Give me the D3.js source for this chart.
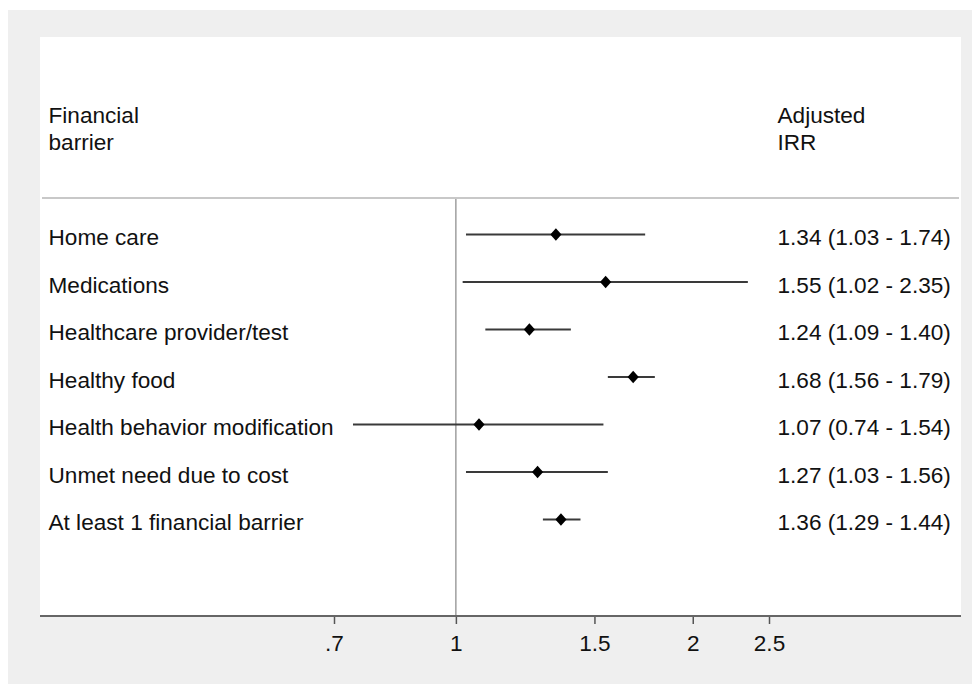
<!DOCTYPE html>
<html>
<head>
<meta charset="utf-8">
<script src="https://cdn.jsdelivr.net/npm/d3@7"></script>
<style>
  html, body { margin: 0; padding: 0; background: #ffffff; }
  svg { display: block; }
  text { font-family: "Liberation Sans", Arial, sans-serif; fill: #111; }
</style>
</head>
<body>
<script>
// ---- data ----
const categories = [
  "Home care",
  "Medications",
  "Healthcare provider/test",
  "Healthy food",
  "Health behavior modification",
  "Unmet need due to cost",
  "At least 1 financial barrier"
];
const irr   = [1.34, 1.55, 1.24, 1.68, 1.07, 1.27, 1.36];
const lower = [1.03, 1.02, 1.09, 1.56, 0.74, 1.03, 1.29];
const upper = [1.74, 2.35, 1.40, 1.79, 1.54, 1.56, 1.44];
const tickValues = [0.7, 1, 1.5, 2, 2.5];
const tickLabels = [".7", "1", "1.5", "2", "2.5"];
const headerLeft = ["Financial", "barrier"];
const headerRight = ["Adjusted", "IRR"];

// ---- layout ----
const W = 972, H = 684;
const svg = d3.select("body").append("svg").attr("width", W).attr("height", H);

// outer grey background
svg.append("rect").attr("x", 8).attr("y", 10).attr("width", W - 8).attr("height", H - 10).attr("fill", "#efefef");
// white plot panel
const panel = { x0: 40, y0: 37, x1: 961, y1: 616 };
svg.append("rect").attr("x", panel.x0).attr("y", panel.y0)
  .attr("width", panel.x1 - panel.x0).attr("height", panel.y1 - panel.y0).attr("fill", "#ffffff");

const x = d3.scaleLog().domain([0.7, 2.5]).range([334, 769]);
const y = d3.scalePoint().domain(categories).range([234.5, 519.5]);

const fs = 22.6;

// header texts
headerLeft.forEach((t, i) => {
  svg.append("text").attr("x", 48.5).attr("y", 123 + i * 27).attr("font-size", fs).text(t);
});
headerRight.forEach((t, i) => {
  svg.append("text").attr("x", 777.5).attr("y", 123 + i * 27).attr("font-size", fs).text(t);
});

// header separator
svg.append("line").attr("x1", panel.x0 + 2).attr("x2", panel.x1 - 2)
  .attr("y1", 198).attr("y2", 198).attr("stroke", "#c8c8c8").attr("stroke-width", 2);

// reference line at 1
svg.append("line").attr("x1", x(1)).attr("x2", x(1))
  .attr("y1", 199).attr("y2", panel.y1).attr("stroke", "#888").attr("stroke-width", 1.2);

// rows
const rows = svg.append("g").selectAll("g").data(categories).join("g");
rows.append("text").attr("x", 48.5).attr("y", d => y(d) + 10.5).attr("font-size", fs).text(d => d);
rows.append("line")
  .attr("x1", (d, i) => x(lower[i])).attr("x2", (d, i) => x(upper[i]))
  .attr("y1", d => y(d)).attr("y2", d => y(d))
  .attr("stroke", "#3a3a3a").attr("stroke-width", 1.8);
rows.append("path")
  .attr("d", "M0,-6.2 L5.6,0 L0,6.2 L-5.6,0 Z")
  .attr("transform", (d, i) => `translate(${x(irr[i])},${y(d)})`)
  .attr("fill", "#000");
rows.append("text").attr("x", 777.5).attr("y", d => y(d) + 10.5).attr("font-size", fs)
  .text((d, i) => `${irr[i].toFixed(2)} (${lower[i].toFixed(2)} - ${upper[i].toFixed(2)})`);

// x axis
const axis = d3.axisBottom(x).tickValues(tickValues)
  .tickFormat((d, i) => tickLabels[i]).tickSize(8).tickSizeOuter(0).tickPadding(11);
const gAxis = svg.append("g").attr("transform", `translate(0,${panel.y1})`).call(axis);
gAxis.select(".domain").remove();
gAxis.selectAll(".tick line").attr("stroke", "#555").attr("stroke-width", 1.5);
gAxis.selectAll(".tick text").attr("font-size", fs).attr("fill", "#111")
  .attr("font-family", "Liberation Sans, Arial, sans-serif");
svg.append("line").attr("x1", panel.x0).attr("x2", panel.x1)
  .attr("y1", panel.y1).attr("y2", panel.y1).attr("stroke", "#666").attr("stroke-width", 2);
</script>
</body>
</html>
